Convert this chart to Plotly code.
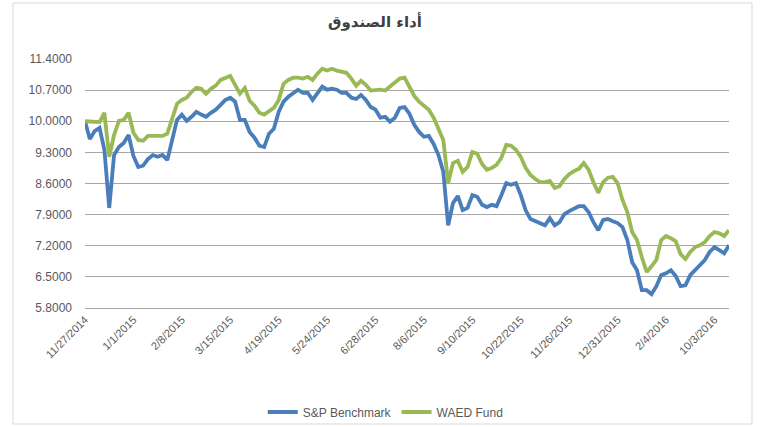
import plotly.graph_objects as go

tick_labels = ["11/27/2014", "1/1/2015", "2/8/2015", "3/15/2015", "4/19/2015",
               "5/24/2015", "6/28/2015", "8/6/2015", "9/10/2015", "10/22/2015",
               "11/26/2015", "12/31/2015", "2/4/2016", "10/3/2016"]
label_step = 10

sp_benchmark = [
    10.00, 9.60, 9.78, 9.85, 9.36, 8.05, 9.24, 9.42, 9.51, 9.69,
    9.22, 8.97, 9.00, 9.15, 9.24, 9.20, 9.24, 9.13, 9.58, 10.03,
    10.15, 10.01, 10.10, 10.21, 10.15, 10.10, 10.19, 10.26, 10.37, 10.48,
    10.53, 10.44, 10.03, 10.03, 9.76, 9.63, 9.45, 9.42, 9.72, 9.83,
    10.21, 10.44, 10.55, 10.64, 10.71, 10.64, 10.64, 10.48, 10.64, 10.78,
    10.71, 10.73, 10.71, 10.64, 10.64, 10.53, 10.50, 10.59, 10.48, 10.32,
    10.26, 10.08, 10.10, 9.99, 10.08, 10.30, 10.32, 10.17, 9.92, 9.76,
    9.65, 9.67, 9.49, 9.24, 8.86, 7.66, 8.16, 8.32, 8.00, 8.05,
    8.34, 8.30, 8.12, 8.07, 8.12, 8.09, 8.34, 8.61, 8.57, 8.61,
    8.34, 8.00, 7.80, 7.75, 7.69, 7.66, 7.82, 7.66, 7.73, 7.91,
    7.98, 8.03, 8.09, 8.09, 7.96, 7.73, 7.55, 7.78, 7.80, 7.75,
    7.71, 7.62, 7.33, 6.83, 6.65, 6.20, 6.20, 6.11, 6.29, 6.54,
    6.58, 6.65, 6.52, 6.29, 6.31, 6.54, 6.65, 6.76, 6.88, 7.06,
    7.17, 7.10, 7.03, 7.21]

waed_fund = [
    10.00, 10.00, 10.00, 9.98, 10.19, 9.20, 9.69, 10.01, 10.03, 10.19,
    9.74, 9.58, 9.56, 9.67, 9.67, 9.67, 9.67, 9.72, 10.08, 10.39,
    10.48, 10.53, 10.66, 10.75, 10.73, 10.62, 10.73, 10.80, 10.93, 10.98,
    11.02, 10.82, 10.62, 10.75, 10.46, 10.35, 10.19, 10.15, 10.23, 10.30,
    10.48, 10.84, 10.93, 10.98, 10.98, 10.96, 11.00, 10.93, 11.07, 11.18,
    11.14, 11.18, 11.14, 11.11, 11.09, 10.96, 10.80, 10.91, 10.82, 10.69,
    10.71, 10.71, 10.69, 10.78, 10.89, 10.96, 10.98, 10.78, 10.57, 10.44,
    10.35, 10.26, 10.08, 9.85, 9.58, 8.61, 9.06, 9.11, 8.86, 8.97,
    9.31, 9.27, 9.04, 8.91, 8.95, 9.02, 9.18, 9.47, 9.45, 9.36,
    9.20, 8.95, 8.79, 8.70, 8.63, 8.63, 8.66, 8.50, 8.54, 8.70,
    8.81, 8.88, 8.93, 9.06, 8.91, 8.63, 8.39, 8.63, 8.73, 8.75,
    8.61, 8.23, 7.96, 7.51, 7.33, 6.94, 6.61, 6.74, 6.88, 7.33,
    7.42, 7.37, 7.30, 7.01, 6.90, 7.06, 7.17, 7.21, 7.28, 7.42,
    7.51, 7.48, 7.42, 7.55]

x_idx = list(range(len(sp_benchmark)))
tick_vals = [i * label_step for i in range(len(tick_labels))]

text_color = "#595959"
fig = go.Figure()
fig.add_trace(go.Scatter(x=x_idx, y=sp_benchmark, mode="lines", name="S&P Benchmark",
                         line=dict(color="#4A7EBB", width=3.8)))
fig.add_trace(go.Scatter(x=x_idx, y=waed_fund, mode="lines", name="WAED Fund",
                         line=dict(color="#98B954", width=3.8)))

L, R, T, B = 85, 31, 59, 119
W, H = 760, 427
pw, ph = W - L - R, H - T - B

def px_x(p):
    return (p - L) / pw

def px_y(p):
    return (H - B - p) / ph

fig.update_layout(
    width=W, height=H,
    margin=dict(l=L, r=R, t=T, b=B, autoexpand=False),
    paper_bgcolor="white", plot_bgcolor="white",
    title=dict(text="<b>أداء الصندوق</b>", x=375 / W, xref="container", xanchor="center",
               y=1 - 22 / H, yref="container", yanchor="middle",
               font=dict(family="DejaVu Sans", size=15, color="#404040")),
    xaxis=dict(range=[0, len(sp_benchmark) - 1], tickmode="array", tickvals=tick_vals,
               ticktext=tick_labels, tickangle=-45, showgrid=False, zeroline=False,
               showline=True, linecolor="#a6a6a6", linewidth=1, ticks="",
               automargin=False,
               tickfont=dict(family="Liberation Sans", size=11, color=text_color)),
    yaxis=dict(range=[5.8, 11.4], tick0=5.8, dtick=0.7, tickformat=".4f",
               showgrid=True, gridcolor="#a6a6a6", gridwidth=1, zeroline=False,
               showline=False, ticks="", ticklabelstandoff=12, automargin=False,
               tickfont=dict(family="Liberation Sans", size=12, color=text_color)),
    legend=dict(orientation="h", x=0.467, xanchor="center", y=px_y(412), yanchor="middle",
                font=dict(family="Liberation Sans", size=12, color=text_color),
                bgcolor="rgba(0,0,0,0)", traceorder="normal"),
    showlegend=True,
)
fig.add_shape(type="rect", xref="paper", yref="paper",
              x0=px_x(13), x1=px_x(752), y0=px_y(424), y1=px_y(3),
              line=dict(color="#d9d9d9", width=1), layer="below")

fig.write_html("out.html", config={"displayModeBar": False},
               post_script="document.body.style.margin='0px';")
